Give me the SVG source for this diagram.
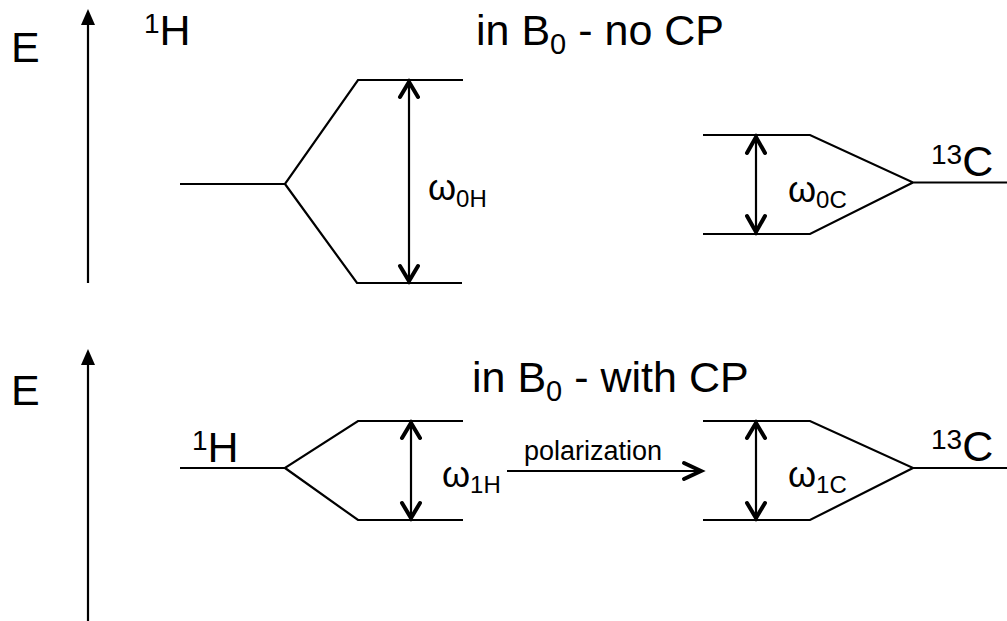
<svg xmlns="http://www.w3.org/2000/svg" width="1007" height="621" viewBox="0 0 1007 621">
<style>
.ln{stroke:#000;stroke-width:2.2;fill:none;stroke-linecap:butt;stroke-linejoin:miter}
.chev{stroke:#000;stroke-width:4;fill:none;stroke-linecap:round;stroke-linejoin:miter}
.big{font-family:"Liberation Sans",Arial,sans-serif;font-size:43px;fill:#000}
.om{font-family:"Liberation Sans",Arial,sans-serif;font-size:36px;fill:#000}
.sm{font-family:"Liberation Sans",Arial,sans-serif;font-size:27px;fill:#000}
</style>
<rect width="1007" height="621" fill="#fff"/>

<g id="axis-top">
<line class="ln" x1="88" y1="283" x2="88" y2="24"/>
<path d="M88,9 L95,25 L81,25 Z" fill="#000"/>
<text class="big" x="11" y="62">E</text>
</g>
<g id="axis-bottom">
<line class="ln" x1="88" y1="621" x2="88" y2="364"/>
<path d="M88,349 L95,365 L81,365 Z" fill="#000"/>
<text class="big" x="11" y="405">E</text>
</g>

<g id="title-top">
<text class="big" x="476" y="45" font-size="44">in B<tspan font-size="29" dy="9">0</tspan><tspan dy="-9"> - no CP</tspan></text>
</g>
<g id="title-bottom">
<text class="big" x="472" y="392">in B<tspan font-size="29" dy="9">0</tspan><tspan dy="-9"> - with CP</tspan></text>
</g>

<g id="H-top">
<text class="big" x="144" y="45"><tspan font-size="28" dy="-12">1</tspan><tspan dy="12">H</tspan></text>
<path class="ln" d="M180,184 L285,184 L358,80 L463,80 M285,184 L357,283 L462,283"/>
</g>
<g id="C-top">
<path class="ln" d="M703,135 L810,135 L913,182.5 L1007,182.5 M913,182.5 L810,234 L703,234"/>
<text class="big" x="931" y="176"><tspan font-size="28" dy="-12">13</tspan><tspan dy="12">C</tspan></text>
</g>
<g id="H-bottom">
<text class="big" x="192" y="462"><tspan font-size="28" dy="-12">1</tspan><tspan dy="12">H</tspan></text>
<path class="ln" d="M180,468 L285,468 L358,421 L463,421 M285,468 L358,520 L463,520"/>
</g>
<g id="C-bottom">
<path class="ln" d="M703,421 L810,421 L913,468 L1007,468 M913,468 L810,520 L703,520"/>
<text class="big" x="931" y="461"><tspan font-size="28" dy="-12">13</tspan><tspan dy="12">C</tspan></text>
</g>

<g id="connectors">
<line class="ln" x1="409" y1="81" x2="409" y2="282"/>
<path class="chev" d="M400,97 L409,82 L418,97 M400,266 L409,281 L418,266"/>
<line class="ln" x1="756" y1="136" x2="756" y2="233"/>
<path class="chev" d="M747,153 L756,137 L765,153 M747,216 L756,232 L765,216"/>
<line class="ln" x1="411" y1="422" x2="411" y2="519"/>
<path class="chev" d="M402,438 L411,423 L420,438 M402,503 L411,518 L420,503"/>
<line class="ln" x1="756" y1="422" x2="756" y2="519"/>
<path class="chev" d="M747,438 L756,423 L765,438 M747,503 L756,518 L765,503"/>
<line class="ln" x1="507" y1="471" x2="700" y2="471"/>
<path class="chev" d="M684,463 L701,471 L684,479"/>
</g>

<g id="labels">
<text class="om" x="428" y="200">ω<tspan font-size="24" dy="7">0H</tspan></text>
<text class="om" x="788" y="202">ω<tspan font-size="24" dy="6">0C</tspan></text>
<text class="om" x="442" y="487">ω<tspan font-size="24" dy="6">1H</tspan></text>
<text class="om" x="788" y="487">ω<tspan font-size="24" dy="6">1C</tspan></text>
<text class="sm" x="524" y="460" font-size="29">polarization</text>
</g>
</svg>
